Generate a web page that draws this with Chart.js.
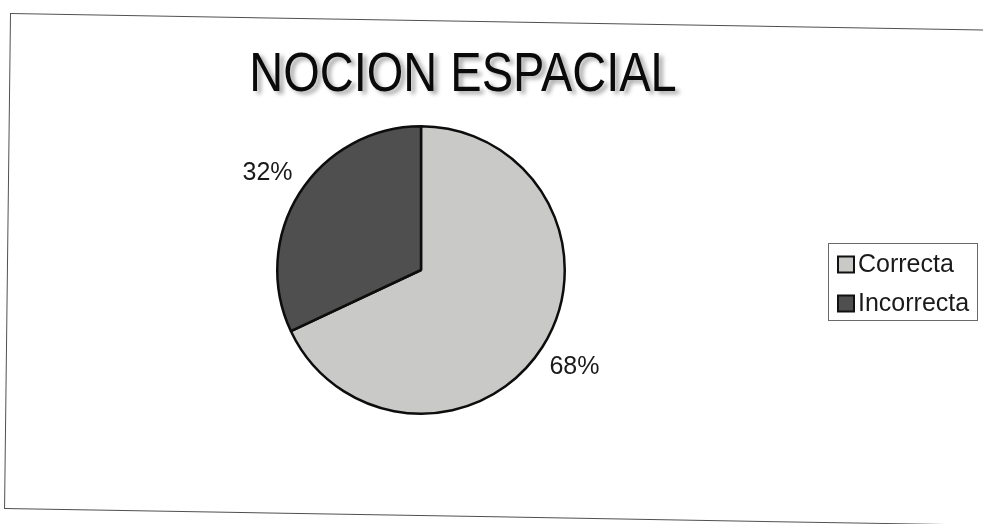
<!DOCTYPE html>
<html>
<head>
<meta charset="utf-8">
<script src="https://cdn.jsdelivr.net/npm/chart.js@4/dist/chart.umd.min.js"></script>
<style>
  html, body { margin: 0; padding: 0; background: #ffffff; }
  #wrap { position: relative; width: 983px; height: 524px; overflow: hidden; }
  #frame {
    position: absolute; left: 10px; top: 13px; width: 1000px; height: 496px;
    border: 1px solid #505050; box-sizing: border-box;
    transform-origin: 0 0; transform: matrix(1, 0.017, -0.012, 1, 0, 0);
  }
  canvas { position: absolute; left: 0; top: 0; }
</style>
</head>
<body>
<div id="wrap">
  <div id="frame"></div>
  <canvas id="c" width="983" height="524"></canvas>
</div>
<script>
const titleText = 'NOCION ESPACIAL';
const categories = ['Correcta', 'Incorrecta'];
const values = [68, 32];
const sliceColors = ['#c9cac7', '#4f4f4f'];

const FONT = '"Liberation Sans", Arial, sans-serif';

const decorPlugin = {
  id: 'decor',
  afterDatasetsDraw(chart) {
    const ctx = chart.ctx;
    const meta = chart.getDatasetMeta(0);
    const data = chart.data.datasets[0].data;
    const total = data.reduce((a, b) => a + b, 0);
    // percentage labels outside slices
    ctx.save();
    ctx.fillStyle = '#1a1a1a';
    ctx.font = '25px ' + FONT;
    ctx.textAlign = 'center';
    ctx.textBaseline = 'middle';
    meta.data.forEach((arc, i) => {
      const p = arc.getProps(['x', 'y', 'startAngle', 'endAngle', 'outerRadius'], true);
      const mid = (p.startAngle + p.endAngle) / 2;
      const r = p.outerRadius + 38;
      const x = p.x + Math.cos(mid) * r;
      const y = p.y + Math.sin(mid) * r;
      ctx.fillText(Math.round(data[i] / total * 100) + '%', x, y);
    });
    ctx.restore();

    // title with soft shadow
    ctx.save();
    ctx.translate(463, 76);
    ctx.scale(1, 1.17);
    ctx.font = '47px ' + FONT;
    ctx.textAlign = 'center';
    ctx.textBaseline = 'middle';
    ctx.shadowColor = 'rgba(0,0,0,0.35)';
    ctx.shadowOffsetX = 4;
    ctx.shadowOffsetY = 3;
    ctx.shadowBlur = 4;
    ctx.fillStyle = '#0a0a0a';
    ctx.fillText(titleText, 0, 0);
    ctx.restore();

    // legend box
    ctx.save();
    const lx = 828, ly = 243, lw = 149, lh = 77;
    ctx.strokeStyle = '#6a6a6a';
    ctx.lineWidth = 1;
    ctx.strokeRect(lx + 0.5, ly + 0.5, lw, lh);
    ctx.font = '25px ' + FONT;
    ctx.textAlign = 'left';
    ctx.textBaseline = 'middle';
    chart.data.labels.forEach((lab, i) => {
      const cy = 264.5 + i * 39;
      ctx.fillStyle = chart.data.datasets[0].backgroundColor[i];
      ctx.fillRect(838, cy - 8, 16, 16);
      ctx.strokeStyle = '#111';
      ctx.lineWidth = 2;
      ctx.strokeRect(838, cy - 8, 16, 16);
      ctx.fillStyle = '#1a1a1a';
      ctx.fillText(lab, 858, cy + 1);
    });
    ctx.restore();
  }
};

new Chart(document.getElementById('c'), {
  type: 'pie',
  data: {
    labels: categories,
    datasets: [{
      data: values,
      backgroundColor: sliceColors,
      borderColor: '#0d0d0d',
      borderWidth: 2.5
    }]
  },
  options: {
    responsive: false,
    animation: false,
    layout: { padding: { left: 276, right: 417, top: 125, bottom: 109 } },
    plugins: {
      legend: { display: false },
      title: { display: false },
      tooltip: { enabled: false }
    }
  },
  plugins: [decorPlugin]
});
</script>
</body>
</html>
